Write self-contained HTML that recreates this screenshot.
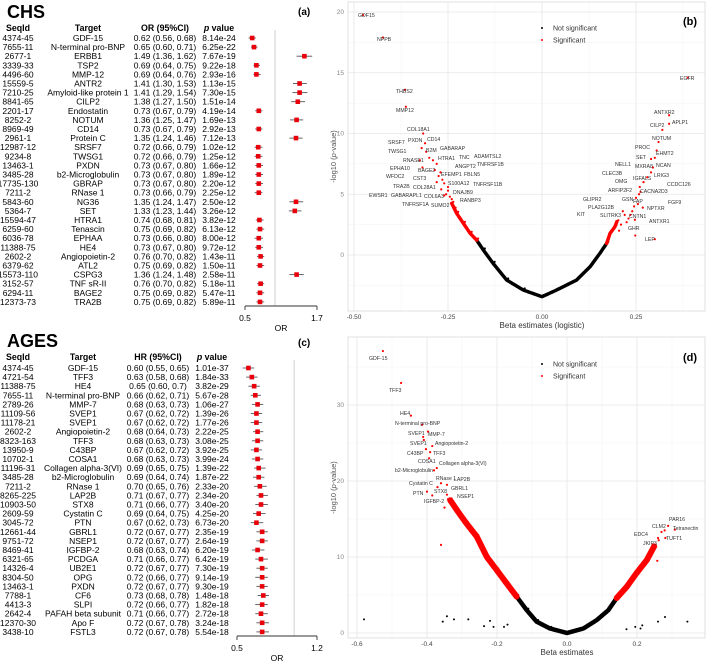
<!DOCTYPE html>
<html><head><meta charset="utf-8"><style>
html,body{margin:0;padding:0;background:#fff;}
svg{display:block;font-family:"Liberation Sans",Arial,sans-serif;}
</style></head><body>
<svg id="fig" width="709" height="666" viewBox="0 0 709 666" xmlns="http://www.w3.org/2000/svg"></svg>
<script>
// ---------- DATA: panel (a) CHS ----------
const chsSeq=["4374-45","7655-11","2677-1","3339-33","4496-60","15559-5","7210-25","8841-65","2201-17","8252-2","8969-49","2961-1","12987-12","9234-8","13463-1","3485-28","17735-130","7211-2","5843-60","5364-7","15594-47","6259-60","6036-78","11388-75","2602-2","6379-62","15573-110","3152-57","6294-11","12373-73"];
const chsTarget=["GDF-15","N-terminal pro-BNP","ERBB1","TSP2","MMP-12","ANTR2","Amyloid-like protein 1","CILP2","Endostatin","NOTUM","CD14","Protein C","SRSF7","TWSG1","PXDN","b2-Microglobulin","GBRAP","RNase 1","NG36","SET","HTRA1","Tenascin","EPHAA","HE4","Angiopoietin-2","ATL2","CSPG3","TNF sR-II","BAGE2","TRA2B"];
const chsOR=[0.62,0.65,1.49,0.69,0.69,1.41,1.41,1.38,0.73,1.36,0.73,1.35,0.72,0.72,0.73,0.73,0.73,0.73,1.35,1.33,0.74,0.75,0.73,0.73,0.76,0.75,1.36,0.76,0.75,0.75];
const chsLo=[0.56,0.60,1.36,0.64,0.64,1.30,1.29,1.27,0.67,1.25,0.67,1.24,0.66,0.66,0.67,0.67,0.67,0.66,1.24,1.23,0.68,0.69,0.66,0.67,0.70,0.69,1.24,0.70,0.69,0.69];
const chsHi=[0.68,0.71,1.62,0.75,0.76,1.53,1.54,1.50,0.79,1.47,0.79,1.46,0.79,0.79,0.80,0.80,0.80,0.79,1.47,1.44,0.81,0.82,0.80,0.80,0.82,0.82,1.48,0.82,0.82,0.82];
const chsP=["8.14e-24","6.25e-22","7.67e-19","9.22e-18","2.93e-16","1.13e-15","7.30e-15","1.51e-14","4.19e-14","1.69e-13","2.92e-13","7.12e-13","1.02e-12","1.25e-12","1.66e-12","1.89e-12","2.20e-12","2.25e-12","2.50e-12","3.26e-12","3.82e-12","6.13e-12","8.00e-12","9.72e-12","1.43e-11","1.50e-11","2.58e-11","5.18e-11","5.47e-11","5.89e-11"];
const chsTicks=[0.5,1.7];
// ---------- DATA: panel (c) AGES ----------
const agSeq=["4374-45","4721-54","11388-75","7655-11","2789-26","11109-56","11178-21","2602-2","8323-163","13950-9","10702-1","11196-31","3485-28","7211-2","8265-225","10903-50","2609-59","3045-72","12661-44","9751-72","8469-41","6321-65","14326-4","8304-50","13463-1","7788-1","4413-3","2642-4","12370-30","3438-10"];
const agTarget=["GDF-15","TFF3","HE4","N-terminal pro-BNP","MMP-7","SVEP1","SVEP1","Angiopoietin-2","TFF3","C43BP","COSA1","Collagen alpha-3(VI)","b2-Microglobulin","RNase 1","LAP2B","STX8","Cystatin C","PTN","GBRL1","NSEP1","IGFBP-2","PCDGA","UB2E1","OPG","PXDN","CF6","SLPI","PAFAH beta subunit","Apo F","FSTL3"];
const agHR=[0.60,0.63,0.65,0.66,0.68,0.67,0.67,0.68,0.68,0.67,0.68,0.69,0.69,0.70,0.71,0.71,0.69,0.67,0.72,0.72,0.68,0.71,0.72,0.72,0.72,0.73,0.72,0.71,0.72,0.72];
const agLo=[0.55,0.58,0.60,0.62,0.63,0.62,0.62,0.64,0.63,0.62,0.63,0.65,0.64,0.65,0.67,0.66,0.64,0.62,0.67,0.67,0.63,0.66,0.67,0.66,0.67,0.68,0.66,0.66,0.67,0.67];
const agHi=[0.65,0.68,0.7,0.71,0.73,0.72,0.72,0.73,0.73,0.72,0.73,0.75,0.74,0.76,0.77,0.77,0.75,0.73,0.77,0.77,0.74,0.77,0.77,0.77,0.77,0.78,0.77,0.77,0.78,0.78];
const agHiTxt=["0.65","0.68","0.7","0.71","0.73","0.72","0.72","0.73","0.73","0.72","0.73","0.75","0.74","0.76","0.77","0.77","0.75","0.73","0.77","0.77","0.74","0.77","0.77","0.77","0.77","0.78","0.77","0.77","0.78","0.78"];
const agP=["1.01e-37","1.84e-33","3.82e-29","5.67e-28","1.06e-27","1.39e-26","1.77e-26","2.22e-25","3.08e-25","3.92e-25","3.99e-24","1.39e-22","1.87e-22","2.33e-20","2.34e-20","3.40e-20","4.25e-20","6.73e-20","2.35e-19","2.64e-19","6.20e-19","6.42e-19","7.30e-19","9.14e-19","9.30e-19","1.48e-18","1.82e-18","2.72e-18","3.24e-18","5.54e-18"];
const agTicks=[0.5,1.2];
// ---------- DATA: panel (b) volcano CHS ----------
const bXTicks=[-0.5,-0.25,0,0.25];
const bXTickLabels=["-0.50","-0.25","0.00","0.25"];
const bYTicks=[0,5,10,15,20];
const bBlackBeta=[-0.174,-0.156,-0.13,-0.094,-0.05,0,0.039,0.092,0.128,0.154,0.172];
const bBlackLogp=[1.23,0.41,-0.69,-2.06,-2.88,-3.43,-2.88,-2.06,-0.96,0.14,0.96];
const bRedLBeta=[-0.174,-0.191,-0.209,-0.227,-0.24];
const bRedLLogp=[1.23,1.78,2.6,3.43,4.25];
const bRedRBeta=[0.172,0.181,0.194,0.199];
const bRedRLogp=[0.96,1.78,2.33,2.74];
const bSigBeta=[-0.476,-0.423,-0.364,-0.362,0.388,-0.316,-0.311,-0.32,-0.308,-0.30,-0.29,-0.28,-0.325,-0.318,-0.285,-0.27,-0.275,-0.265,-0.26,-0.25,-0.255,-0.245,-0.28,-0.268,-0.26,-0.25,-0.24,-0.23,0.338,0.338,0.32,0.31,0.305,0.30,0.29,0.295,0.29,0.28,0.27,0.26,0.262,0.258,0.25,0.255,0.245,0.24,0.235,0.23,0.225,0.22,0.21,0.215,0.205,0.268,0.247,0.30,0.248];
const bSigLogp=[19.75,17.9,13.6,12.2,14.6,10.0,9.2,8.8,8.5,8.0,7.8,7.5,7.8,7.2,7.0,6.8,6.5,6.2,5.9,5.6,5.0,4.8,6.0,5.4,4.9,5.3,4.6,3.9,11.5,10.8,10.3,9.3,8.6,8.0,7.9,7.2,6.8,6.4,6.0,5.6,5.2,5.0,4.7,4.2,4.0,3.6,3.3,3.0,2.7,3.3,2.5,3.6,2.0,3.9,2.9,1.3,1.6];
const bLabels=[["GDF15",358,17],["NPPB",377,41],["THBS2",396,93],["MMP12",396,112],["COL18A1",407,131],["SRSF7",388,144],["PXDN",408,142],["CD14",427,141],["TWSG1",388,153],["B2M",426,152],["GABARAP",440,150],["RNASE1",403,162],["HTRA1",438,160],["TNC",459,159],["ADAMTSL2",474,158],["ANGPT2",455,168],["TNFRSF1B",477,166],["EPHA10",390,170],["BAGE2",418,172],["WFDC2",386,178],["EFEMP1",441,176],["FBLN5",464,176],["CST3",413,180],["S100A12",448,185],["TNFRSF11B",473,186],["TRA2B",393,188],["COL28A1",413,189],["DNAJB9",453,194],["EWSR1",369,197],["GABARAPL1",391,197],["COL6A3",424,198],["RANBP3",460,202],["TNFRSF1A",402,206],["SUMO2",431,207],["EGFR",680,80],["ANTXR2",654,114],["APLP1",672,124],["CILP2",650,127],["NOTUM",652,140],["PROC",635,149],["EHMT2",656,155],["SET",636,159],["NELL1",615,166],["MXRA8",635,168],["NCAN",656,167],["CLEC3B",602,175],["IGFALS",633,180],["LRIG3",654,177],["OMG",615,183],["CCDC126",667,186],["ARFIP2",608,192],["F2",626,192],["CACNA2D3",640,193],["GLIPR2",583,201],["GSN",622,201],["FAP",633,203],["FGF9",668,204],["PLA2G12B",588,209],["NPTXR",647,210],["KIT",577,216],["SLITRK3",600,217],["CNTN1",629,218],["ANTXR1",649,223],["GHR",628,230],["LEP",645,241]];
// ---------- DATA: panel (d) volcano AGES ----------
const dXTicks=[-0.6,-0.4,-0.2,0,0.2];
const dXTickLabels=["-0.6","-0.4","-0.2","0.0","0.2"];
const dYTicks=[0,10,20,30];
const dBlackBeta=[-0.144,-0.115,-0.087,-0.049,0,0.047,0.085,0.118,0.142];
const dBlackLogp=[4.8,3.0,1.5,0.6,0,0.6,1.7,3.0,4.6];
const dRedLBeta=[-0.144,-0.172,-0.201,-0.229,-0.258,-0.287,-0.315,-0.334];
const dRedLLogp=[4.8,6.5,8.3,10.0,12.7,14.4,16.2,17.5];
const dRedRBeta=[0.142,0.171,0.199,0.228,0.249];
const dRedRLogp=[4.6,6.1,7.9,9.6,11.4];
const dSigBeta=[-0.526,-0.474,-0.446,-0.414,-0.397,-0.411,-0.409,-0.385,-0.403,-0.391,-0.394,-0.372,-0.38,-0.36,-0.343,-0.37,-0.40,-0.343,-0.34,-0.385,-0.33,0.289,0.279,0.308,0.27,0.281,0.262,0.258,-0.36,-0.35,0.26];
const dSigLogp=[37.1,32.9,28.6,27.4,26.5,25.8,25.4,24.6,24.2,23.8,23.0,21.7,21.4,19.7,19.5,19.2,18.6,18.2,17.6,18.1,17.0,14.1,13.5,13.6,13.3,12.5,12.2,9.5,11.6,16.5,12.5];
const dOutBeta=[-0.58,-0.343,-0.355,-0.323,-0.282,-0.21,-0.237,-0.22,-0.18,-0.17,0.28,0.344,0.26,0.215,0.21,0.195,0.17];
const dOutLogp=[1.8,2.2,1.5,1.8,1.8,0.8,0.9,1.6,0.8,1.1,2.1,1.5,1.5,1.0,0.6,0.8,0.5];
const dLabels=[["GDF-15",369,360],["TFF3",389,392],["HE4",400,415],["N-terminal pro-BNP",395,425],["SVEP1",408,435],["MMP-7",428,436],["SVEP1",410,445],["Angiopoietin-2",435,445],["C43BP",407,455],["TFF3",433,455],["COSA1",418,463],["Collagen alpha-3(VI)",439,465],["b2-Microglobulin",395,472],["RNase 1",436,480],["LAP2B",454,481],["Cystatin C",409,485],["GBRL1",451,490],["PTN",413,495],["STX8",434,493],["NSEP1",457,498],["IGFBP-2",424,503],["PAR16",669,521],["CLM2",652,528],["Tetranectin",673,530],["EDC4",634,536],["TUFT1",666,540],["JKIP3",643,545]];

// ---------- helpers ----------
const NS="http://www.w3.org/2000/svg";
const svg=document.getElementById('fig');
function el(tag,attrs,parent,txt){const e=document.createElementNS(NS,tag);for(const k in attrs)e.setAttribute(k,attrs[k]);if(txt!==undefined)e.textContent=txt;(parent||svg).appendChild(e);return e;}
function g(name){const e=el('g',{});return e;}

// ---------- forest table panels ----------
function forest(cfg){
  const grp=g(cfg.name);
  const t=el('text',{x:cfg.titleX,y:cfg.titleY,'font-size':18,'font-weight':'bold',fill:'#000'},grp,cfg.title);
  
  const tg=el('text',{x:cfg.tagX,y:cfg.tagY,'font-size':10,'font-weight':'bold'},grp,cfg.tag);
  
  const hdr=g(cfg.name+'-header');grp.appendChild(hdr);
  el('text',{x:cfg.cols[0],y:cfg.hY,'font-size':8.8,'font-weight':'bold','text-anchor':'middle'},hdr,'SeqId');
  el('text',{x:cfg.cols[1],y:cfg.hY,'font-size':8.8,'font-weight':'bold','text-anchor':'middle'},hdr,'Target');
  el('text',{x:cfg.cols[2],y:cfg.hY,'font-size':8.8,'font-weight':'bold','text-anchor':'middle'},hdr,cfg.eff+' (95%CI)');
  const pv=el('text',{x:cfg.cols[3],y:cfg.hY,'font-size':8.8,'font-weight':'bold','text-anchor':'middle'},hdr);
  el('tspan',{'font-style':'italic'},pv,'p');el('tspan',{},pv,' value');
  const xs=v=>cfg.ax0+(v-cfg.ticks[0])/(cfg.ticks[1]-cfg.ticks[0])*(cfg.ax1-cfg.ax0);
  const rl=el('line',{x1:xs(1),x2:xs(1),y1:cfg.rowY0-8,y2:cfg.axY,stroke:'#cfcfcf','stroke-width':1},grp);
  
  for(let i=0;i<cfg.seq.length;i++){
    const y=cfg.rowY0+i*cfg.step;
    const row=g('row-'+cfg.target[i].toLowerCase().replace(/[^a-z0-9]+/g,'-'));grp.appendChild(row);
    el('text',{x:cfg.cols[0],y:y+3,'font-size':8.5,'text-anchor':'middle'},row,cfg.seq[i]);
    el('text',{x:cfg.cols[1],y:y+3,'font-size':8.5,'text-anchor':'middle'},row,cfg.target[i]);
    el('text',{x:cfg.cols[2],y:y+3,'font-size':8.5,'text-anchor':'middle'},row,cfg.est[i].toFixed(2)+' ('+cfg.lo[i].toFixed(2)+', '+(cfg.hiTxt?cfg.hiTxt[i]:cfg.hi[i].toFixed(2))+')');
    el('text',{x:cfg.cols[3],y:y+3,'font-size':8.5,'text-anchor':'middle'},row,cfg.p[i]);
    const ci=el('line',{x1:xs(cfg.lo[i]),x2:xs(cfg.hi[i]),y1:y,y2:y,stroke:'#555','stroke-width':0.9},row);
    
    const pt=el('rect',{x:xs(cfg.est[i])-2.3,y:y-2.3,width:4.6,height:4.6,fill:'#e8000b'},row);
    
  }
  const ax=g(cfg.name+'-x-axis');grp.appendChild(ax);
  el('line',{x1:cfg.ax0,x2:cfg.ax1,y1:cfg.axY,y2:cfg.axY,stroke:'#333','stroke-width':0.9},ax);
  cfg.ticks.forEach(v=>{
    el('line',{x1:xs(v),x2:xs(v),y1:cfg.axY,y2:cfg.axY+4,stroke:'#333','stroke-width':0.9},ax);
    el('text',{x:xs(v),y:cfg.axY+15,'font-size':8.5,'text-anchor':'middle'},ax,String(v));
  });
  el('text',{x:(cfg.ax0+cfg.ax1)/2,y:cfg.axY+25,'font-size':8.5,'text-anchor':'middle'},ax,'OR');
}
forest({name:'chs-forest',title:'CHS',titleX:7,titleY:18,tag:'(a)',tagX:298,tagY:15,hY:31,cols:[18,88,165,219],eff:'OR',
  seq:chsSeq,target:chsTarget,est:chsOR,lo:chsLo,hi:chsHi,p:chsP,ticks:chsTicks,ax0:245,ax1:317,axY:306,rowY0:38,step:9.1});
forest({name:'ages-forest',title:'AGES',titleX:7,titleY:347,tag:'(c)',tagX:298,tagY:346,hY:360,cols:[18,83,158,212],eff:'HR',
  seq:agSeq,target:agTarget,est:agHR,lo:agLo,hi:agHi,hiTxt:agHiTxt,p:agP,ticks:agTicks,ax0:237,ax1:317,axY:636,rowY0:368,step:9.1});

// ---------- volcano panels ----------
function volcano(cfg){
  const grp=g(cfg.name);
  const X=v=>cfg.x0px+v*cfg.xk, Y=v=>cfg.y0px-v*cfg.yk;
  const L=cfg.box[0],T=cfg.box[1],R=cfg.box[2],B=cfg.box[3];
  cfg.xMinor.forEach(v=>el('line',{x1:X(v),x2:X(v),y1:T,y2:B,stroke:'#f3f3f3','stroke-width':0.6},grp));
  cfg.yMinor.forEach(v=>el('line',{x1:L,x2:R,y1:Y(v),y2:Y(v),stroke:'#f3f3f3','stroke-width':0.6},grp));
  cfg.xTicks.forEach((v,i)=>{
    el('line',{x1:X(v),x2:X(v),y1:T,y2:B,stroke:'#e6e6e6','stroke-width':0.8},grp);
    const t=el('text',{x:X(v),y:B+8,'font-size':6.5,fill:'#444','text-anchor':'middle'},grp,cfg.xLab[i]);
    
  });
  cfg.yTicks.forEach(v=>{
    el('line',{x1:L,x2:R,y1:Y(v),y2:Y(v),stroke:'#e6e6e6','stroke-width':0.8},grp);
    const t=el('text',{x:L-4,y:Y(v)+2,'font-size':6.5,fill:'#888','text-anchor':'end'},grp,String(v));
    
  });
  const fr=el('rect',{x:L,y:T,width:R-L,height:B-T,fill:'none',stroke:'#d9d9d9','stroke-width':0.8},grp);
  
  const xt=el('text',{x:X(0),y:B+17,'font-size':8,fill:'#333','text-anchor':'middle'},grp,cfg.xTitle);
  
  const yt=el('text',{x:0,y:0,'font-size':7.5,fill:'#555','text-anchor':'middle',transform:`translate(${L-12},${(T+B)/2}) rotate(-90)`},grp);
  
  el('tspan',{},yt,'-log10 (');el('tspan',{'font-style':'italic'},yt,'p');el('tspan',{},yt,'-value)');
  function band(bx,by,col,w,name){
    const pts=bx.map((b,i)=>X(b)+','+Y(by[i])).join(' ');
    const pl=el('polyline',{points:pts,fill:'none',stroke:col,'stroke-width':w,'stroke-linecap':'round','stroke-linejoin':'round','stroke-dasharray':'1.2 0.8'},grp);
    
    bx.forEach((b,i)=>{const c=el('circle',{cx:X(b)+1.5,cy:Y(by[i])-1.5,r:1.1,fill:col},grp);});
  }
  band(cfg.blackB,cfg.blackL,'#000',cfg.bw,'not-significant-cloud');
  band(cfg.redLB,cfg.redLL,'#ff0000',cfg.rw,'significant-cloud-left');
  band(cfg.redRB,cfg.redRL,'#ff0000',cfg.rw,'significant-cloud-right');
  cfg.sigB.forEach((b,i)=>{const c=el('circle',{cx:X(b),cy:Y(cfg.sigL[i]),r:1.1,fill:'#ff0000'},grp);});
  (cfg.outB||[]).forEach((b,i)=>{const c=el('circle',{cx:X(b),cy:Y(cfg.outL[i]),r:1,fill:'#000'},grp);});
  cfg.labels.forEach(l=>{const t=el('text',{x:l[1],y:l[2],'font-size':5.2,fill:'#333'},grp,l[0]);});
  const lg=g('legend');grp.appendChild(lg);
  el('circle',{cx:cfg.legX,cy:cfg.legY,r:1,fill:'#000'},lg);
  el('text',{x:cfg.legX+11,y:cfg.legY+2.5,'font-size':7,fill:'#333'},lg,'Not significant');
  el('circle',{cx:cfg.legX,cy:cfg.legY+12,r:1,fill:'#ff0000'},lg);
  el('text',{x:cfg.legX+11,y:cfg.legY+14.5,'font-size':7,fill:'#333'},lg,'Significant');
  const tg=el('text',{x:R-15,y:cfg.legY-3,'font-size':11,'font-weight':'bold','text-anchor':'middle'},grp,cfg.tag);
  
}
volcano({name:'chs-volcano',box:[348,2,705,311],x0px:542,xk:376,y0px:255,yk:12.15,
  xTicks:bXTicks,xLab:bXTickLabels,yTicks:bYTicks,xMinor:[-0.375,-0.125,0.125,0.375],yMinor:[2.5,7.5,12.5,17.5,-2.5],
  xTitle:'Beta estimates (logistic)',blackB:bBlackBeta,blackL:bBlackLogp,redLB:bRedLBeta,redLL:bRedLLogp,redRB:bRedRBeta,redRL:bRedRLogp,
  sigB:bSigBeta,sigL:bSigLogp,labels:bLabels,bw:3.5,rw:3.5,legX:542,legY:28,tag:'(b)'});
volcano({name:'ages-volcano',box:[348,337,705,638],x0px:567,xk:350,y0px:633,yk:7.6,
  xTicks:dXTicks,xLab:dXTickLabels,yTicks:dYTicks,xMinor:[-0.5,-0.3,-0.1,0.1,0.3],yMinor:[5,15,25,35],
  xTitle:'Beta estimates',blackB:dBlackBeta,blackL:dBlackLogp,redLB:dRedLBeta,redLL:dRedLLogp,redRB:dRedRBeta,redRL:dRedRLogp,
  sigB:dSigBeta,sigL:dSigLogp,outB:dOutBeta,outL:dOutLogp,labels:dLabels,bw:4.5,rw:6,legX:542,legY:364,tag:'(d)'});
</script>
</body></html>
